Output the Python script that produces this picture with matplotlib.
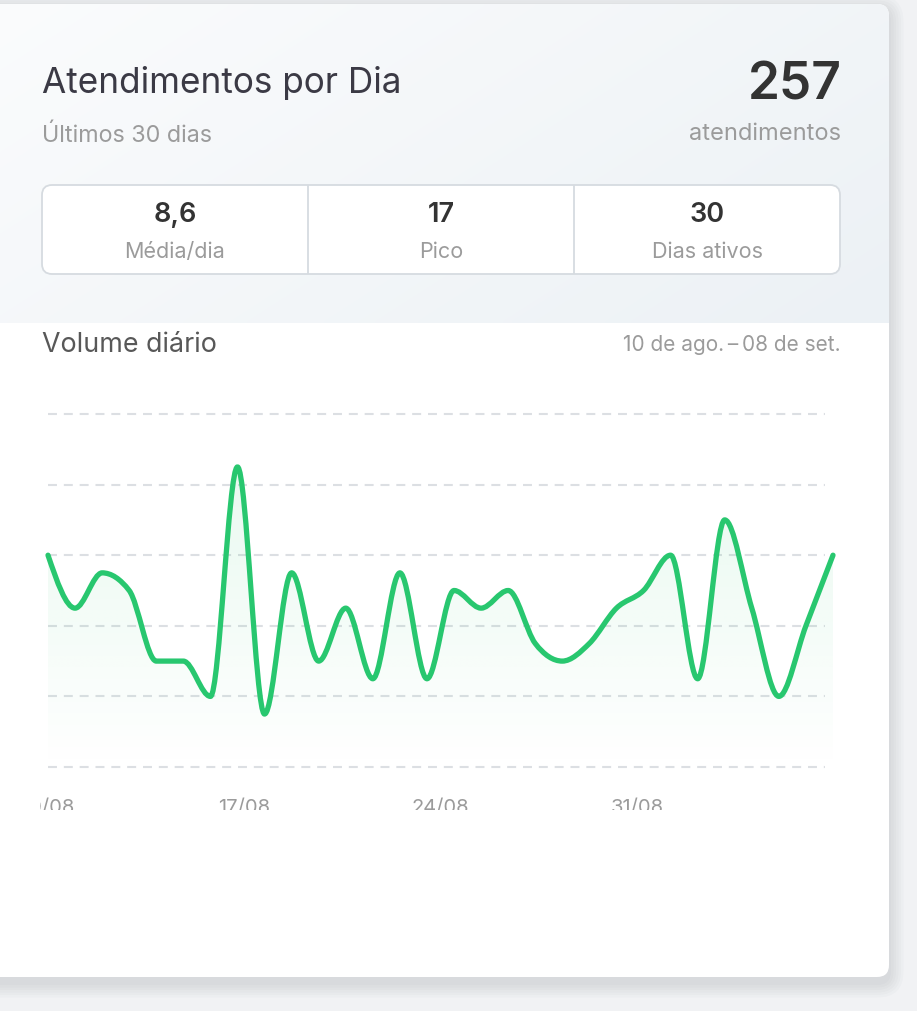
import numpy as np
import matplotlib
matplotlib.use("Agg")
import matplotlib.pyplot as plt
from matplotlib.patches import FancyBboxPatch, PathPatch
from matplotlib.path import Path

plt.rcParams['font.family'] = ['Inter', 'DejaVu Sans']

# daily volume, 10/08 .. 08/09
counts = [12, 9, 11, 10, 6, 6, 4, 17, 3, 11, 6, 9, 5, 11, 5,
          10, 9, 10, 7, 6, 7, 9, 10, 12, 5, 14, 9, 4, 8, 12]
tick_labels = ['10/08', '17/08', '24/08', '31/08']
tick_days = [0, 7, 14, 21]
grid_values = [0, 4, 8, 12, 16, 20]

title = 'Atendimentos por Dia'
subtitle = 'Últimos 30 dias'
total_label = 'atendimentos'
stat_values = ['8,6', '17', '30']
stat_labels = ['Média/dia', 'Pico', 'Dias ativos']
chart_title = 'Volume diário'
range_label = '10 de ago.\u2009–\u200908 de set.'

W, H = 917, 1011
fig = plt.figure(figsize=(W / 100, H / 100), dpi=100)
fig.patch.set_facecolor('#f1f2f4')

bg = fig.add_axes([0, 0, 1, 1])
bg.set_xlim(0, W)
bg.set_ylim(H, 0)
bg.axis('off')

# card shadow
for i in range(6):
    g = 2 + i * 2.5
    bg.add_patch(FancyBboxPatch((-30 - g, 4 - g + 6), 919 + 2 * g, 973 + 2 * g,
                                boxstyle='round,pad=0,rounding_size=%d' % (12 + g),
                                fc='#20304a', ec='none', alpha=0.018))
card = FancyBboxPatch((-30, 4), 919, 973, boxstyle='round,pad=0,rounding_size=12',
                      fc='white', ec='none')
bg.add_patch(card)

# header gradient
gx, gy = np.meshgrid(np.linspace(0, 1, 200), np.linspace(0, 1, 80))
t = np.clip(0.65 * gx + 0.35 * gy, 0, 1)[..., None]
c0 = np.array([251, 252, 253]) / 255
c1 = np.array([236, 241, 245]) / 255
img = c0 + (c1 - c0) * t
im = bg.imshow(img, extent=(-30, 889, 323, 4), aspect='auto', zorder=1,
               interpolation='bilinear')
im.set_clip_path(card)

bg.text(42, 93, title, fontsize=25.3, color='#3b3a45', va='baseline', ha='left', zorder=3)
bg.text(42, 142, subtitle, fontsize=16.8, color='#9b9b9b', va='baseline', ha='left', zorder=3)
bg.text(842, 99, str(sum(counts)), fontsize=37, fontweight='semibold', color='#333333',
        va='baseline', ha='right', zorder=3)
bg.text(841, 140, total_label, fontsize=17, color='#9b9b9b', va='baseline', ha='right', zorder=3)

# stats box
bg.add_patch(FancyBboxPatch((42, 185), 798, 89, boxstyle='round,pad=0,rounding_size=10',
                            fc='white', ec='#d6dbe0', lw=1.3, zorder=2))
cell_w = 798 / 3
for k in range(3):
    cx = 42 + cell_w * (k + 0.5)
    if k > 0:
        bg.plot([42 + cell_w * k] * 2, [186, 273], color='#d6dbe0', lw=1.3, zorder=3)
    bg.text(cx, 222.5, stat_values[k], fontsize=19.5, fontweight='semibold', color='#333333',
            va='baseline', ha='center', zorder=3)
    bg.text(cx, 258, stat_labels[k], fontsize=15.5, color='#9b9b9b',
            va='baseline', ha='center', zorder=3)

bg.text(42, 352.5, chart_title, fontsize=19.3, color='#585858', va='baseline', ha='left', zorder=3)
bg.text(841, 351, range_label, fontsize=15, color='#9b9b9b', va='baseline', ha='right', zorder=3)

# chart axes, placed in pixels
x0_px, x1_px = 48, 833          # first / last day
y0_px, y20_px = 767, 414        # value 0 / value 20
ax_l, ax_r, ax_t, ax_b = 40, 845, 395, 810
sx = (x1_px - x0_px) / (len(counts) - 1)
sy = (y0_px - y20_px) / 20
ax = fig.add_axes([ax_l / W, (H - ax_b) / H, (ax_r - ax_l) / W, (ax_b - ax_t) / H])
ax.set_xlim((ax_l - x0_px) / sx, (ax_r - x0_px) / sx)
ax.set_ylim((y0_px - ax_b) / sy, (y0_px - ax_t) / sy)
ax.axis('off')
ax.patch.set_alpha(0)

xs = np.arange(len(counts), dtype=float)
ys = np.array(counts, dtype=float)

# monotone cubic (as d3 curveMonotoneX) -> bezier path
n = len(xs)
h = np.diff(xs)
s = np.diff(ys) / h
tan = np.zeros(n)
for i in range(1, n - 1):
    p = (s[i - 1] * h[i] + s[i] * h[i - 1]) / (h[i - 1] + h[i])
    tan[i] = (np.sign(s[i - 1]) + np.sign(s[i])) * min(abs(s[i - 1]), abs(s[i]), 0.5 * abs(p))
tan[0] = (3 * s[0] - tan[1]) / 2
tan[-1] = (3 * s[-1] - tan[-2]) / 2

verts = [(xs[0], ys[0])]
codes = [Path.MOVETO]
for i in range(n - 1):
    d = h[i] / 3
    verts += [(xs[i] + d, ys[i] + d * tan[i]),
              (xs[i + 1] - d, ys[i + 1] - d * tan[i + 1]),
              (xs[i + 1], ys[i + 1])]
    codes += [Path.CURVE4] * 3
line_path = Path(verts, codes)

base = -0.2
fill_path = Path(verts + [(xs[-1], base), (xs[0], base), (xs[0], ys[0])],
                 codes + [Path.LINETO, Path.LINETO, Path.CLOSEPOLY])
fill_patch = PathPatch(fill_path, fc='none', ec='none')
ax.add_patch(fill_patch)

green = np.array([40, 199, 111]) / 255
alpha = np.linspace(0.11, 0.0, 200)[:, None]
grad = np.zeros((200, 2, 4))
grad[..., :3] = green
grad[..., 3] = alpha
gim = ax.imshow(grad, extent=(xs[0], xs[-1], base, 18), aspect='auto', origin='upper',
                zorder=1, interpolation='bilinear')
gim.set_clip_path(fill_patch)

# grid
grid_end = (825 - x0_px) / sx
ax.hlines(grid_values, 0, grid_end, colors='#dcdfe3', lw=1.5,
          linestyles=(0, (4.3, 3.3)), zorder=0.5)

ax.add_patch(PathPatch(line_path, fc='none', ec='#28c76f', lw=3.8,
                       capstyle='round', joinstyle='round', zorder=3))

# date labels (cut off by the axes edge, like the reference)
label_step = (len(counts) - 1) / (len(counts) - 2)
for d, lab in zip(tick_days, tick_labels):
    ax.text(d * label_step, (y0_px - 799) / sy, lab, fontsize=14.5, color='#9b9b9b',
            ha='center', va='top', clip_on=True)

fig.savefig('out.png', dpi=100, facecolor=fig.get_facecolor())
